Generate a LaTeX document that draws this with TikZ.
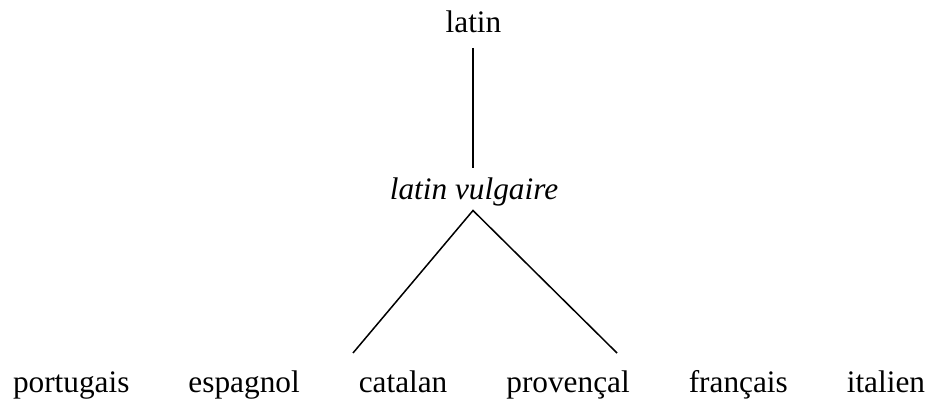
\documentclass[tikz,border=0pt]{standalone}
\usepackage{fontspec}
\setmainfont{Liberation Serif}
\begin{document}
\begin{tikzpicture}[x=1pt,y=1pt,
  word/.style={inner sep=0pt,outer sep=0pt,anchor=base west,font=\fontsize{31.3}{37}\selectfont},
  branch/.style={line width=1.5pt}]
\useasboundingbox (0,0) rectangle (934,402);
% top
\node[word,anchor=base] (lat) at (473.5,369) {latin};
\node[word,anchor=base] (lv) at (474,202) {\itshape latin vulgaire};
% bottom row
\node[word] (por) at (13,10) {portugais};
\node[word] (esp) at ([xshift=59pt]por.base east) {espagnol};
\node[word] (cat) at ([xshift=59pt]esp.base east) {catalan};
\node[word] (pro) at ([xshift=59pt]cat.base east) {provençal};
\node[word] (fra) at ([xshift=59pt]pro.base east) {français};
\node[word] (ita) at ([xshift=59pt]fra.base east) {italien};
% connector ends
\coordinate (latb) at (473,354);
\coordinate (lvt) at (473,234);
\coordinate (apex) at (473,191.5);
\coordinate (catt) at (353,49);
\coordinate (prot) at (617,49);
\draw[branch] (latb) -- (lvt);
\draw[branch] (catt) -- (apex) -- (prot);
\end{tikzpicture}
\end{document}
